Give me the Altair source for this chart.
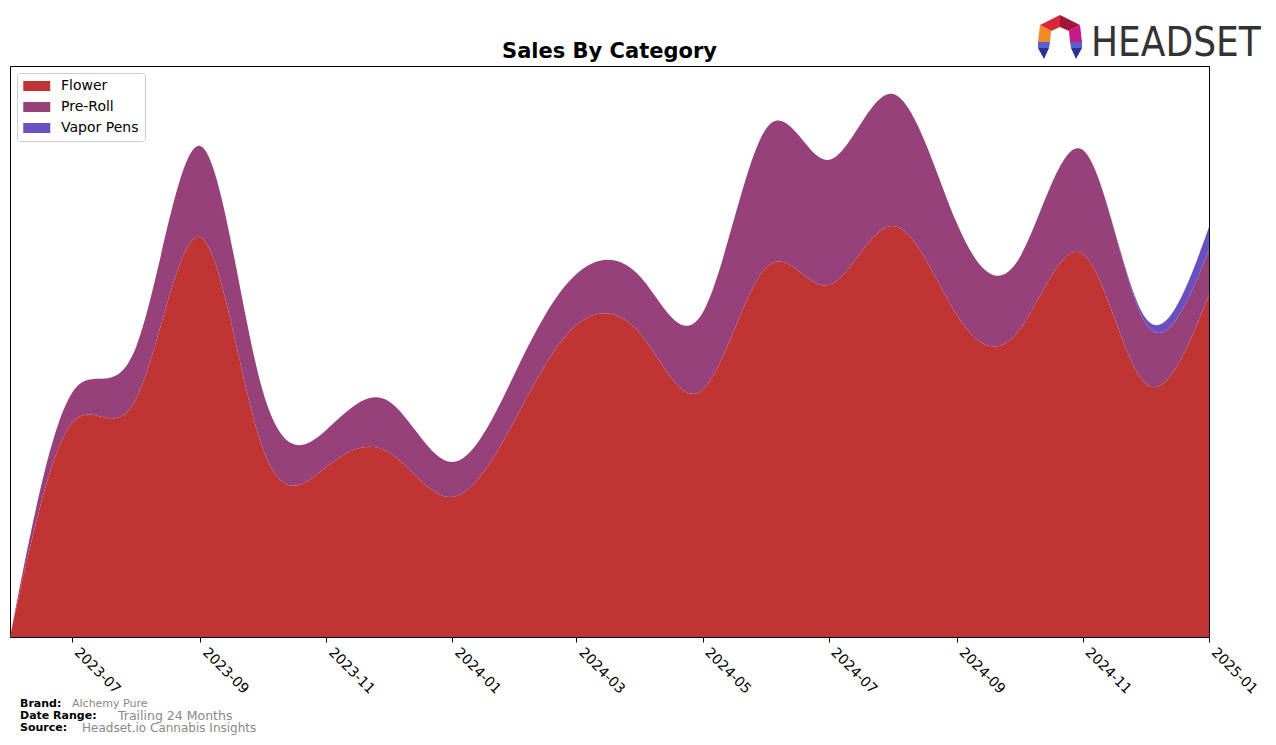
import altair as alt
import pandas as pd

# ---- data ----
months = ["2023-06-01", "2023-07-01", "2023-08-01", "2023-09-01", "2023-10-01",
          "2023-11-01", "2023-12-01", "2024-01-01", "2024-02-01", "2024-03-01",
          "2024-04-01", "2024-05-01", "2024-06-01", "2024-07-01", "2024-08-01",
          "2024-09-01", "2024-10-01", "2024-11-01", "2024-12-01", "2025-01-01"]
flower = [0, 214, 238, 400, 190, 170, 185, 140, 220, 312, 303, 247, 370, 352, 411,
          322, 306, 383, 254, 342]
preroll = [0, 30, 52, 91, 58, 37, 51, 35, 47, 51, 57, 77, 139, 125, 132, 92, 72,
           104, 61, 45]
vapor = [0, 0, 0, 0, 0, 0, 0, 0, 0, 0, 0, 0, 0, 0, 0, 0, 0, 0, 5, 23]

categories = ["Flower", "Pre-Roll", "Vapor Pens"]
colors = ["#c13434", "#96417a", "#6a4fc0"]
tick_dates = ["2023-07-01", "2023-09-01", "2023-11-01", "2024-01-01", "2024-03-01",
              "2024-05-01", "2024-07-01", "2024-09-01", "2024-11-01", "2025-01-01"]

title_text = "Sales By Category"
footer_labels = ["Brand:", "Date Range:", "Source:"]
footer_values = ["Alchemy Pure", "Trailing 24 Months", "Headset.io Cannabis Insights"]

series = {"Flower": flower, "Pre-Roll": preroll, "Vapor Pens": vapor}
rows = []
for k, cat in enumerate(categories):
    for m, v in zip(months, series[cat]):
        rows.append({"month": m, "category": cat, "sales": v, "ord": k})
df = pd.DataFrame(rows)

W, H = 1199, 571

area = alt.Chart(df).mark_area(interpolate="natural").encode(
    x=alt.X("month:T",
            scale=alt.Scale(domain=["2023-06-01", "2025-01-01"], nice=False),
            axis=alt.Axis(values=tick_dates, format="%Y-%m", labelAngle=45,
                          labelAlign="left", labelBaseline="top", labelPadding=3,
                          labelOffset=9,
                          labelFontSize=14, labelFont="DejaVu Sans", labelColor="black",
                          tickColor="black", tickSize=5, domainColor="black",
                          grid=False, title=None, labelOverlap=False, labelBound=False,
                          labelFlush=False)),
    y=alt.Y("sales:Q", stack="zero", scale=alt.Scale(domain=[0, 571], nice=False),
            axis=None),
    color=alt.Color("category:N",
                    scale=alt.Scale(domain=categories, range=colors),
                    legend=alt.Legend(title=None, orient="top-left", offset=7,
                                      symbolType="M-1,-0.74h4v1.48h-4z",
                                      symbolSize=182, symbolStrokeWidth=0,
                                      symbolOpacity=1,
                                      labelFontSize=14, labelFont="DejaVu Sans",
                                      labelColor="black", labelOffset=24,
                                      rowPadding=7, padding=6,
                                      strokeColor="#cccccc", fillColor="white",
                                      cornerRadius=3)),
    order=alt.Order("ord:Q", sort="ascending"),
)

one = alt.Data(values=[{}])

def txt(x, y, s, size, bold=False, color="black", align="left", font="DejaVu Sans",
        baseline="middle"):
    return alt.Chart(one).mark_text(
        text=s, fontSize=size, font=font, fontWeight="bold" if bold else "normal",
        color=color, align=align, baseline=baseline,
    ).encode(x=alt.value(x), y=alt.value(y))

ox, oy = 10, 66
layers = [area]
layers.append(txt(609.5 - ox, 58 - oy, title_text, 21, bold=True, align="center",
                  baseline="alphabetic"))
lab_pos = [(20, 704), (20, 716), (20, 728)]
val_pos = [(72, 704), (118, 716), (82, 728)]
val_size = [11, 12.5, 12]
for (lx, ly), s in zip(lab_pos, footer_labels):
    layers.append(txt(lx - ox, ly - oy, s, 11, bold=True))
for (vx, vy), s, fs in zip(val_pos, footer_values, val_size):
    layers.append(txt(vx - ox, vy - oy, s, fs, color="#888888"))

# Headset logo
layers.append(txt(1091 - ox, 56 - oy, "HEADSET", 40, color="#333333",
                  font="Liberation Sans Narrow, DejaVu Sans Condensed, sans-serif",
                  baseline="alphabetic"))
logo_pieces = [
    ("M0,-22L-20,-12L-9,-6L0,-10Z", "#d9263b"),
    ("M0,-22L0,-10L9,-6L20,-12Z", "#a3163c"),
    ("M-20,-12L-22,5L-10,5L-9,-6Z", "#f08a24"),
    ("M20,-12L9,-6L10,5L22,5Z", "#c21a86"),
    ("M-22,5L-10,5L-11,11L-22,11Z", "#5a5fd0"),
    ("M-22,11L-11,11L-16,22Z", "#2d3090"),
    ("M22,5L10,5L11,11L22,11Z", "#5a5fd0"),
    ("M22,11L11,11L16,22Z", "#2d3090"),
]
for path, col in logo_pieces:
    layers.append(alt.Chart(one).mark_point(
        shape=path, size=4, filled=True, color=col, opacity=1, strokeWidth=0
    ).encode(x=alt.value(1060 - ox), y=alt.value(37 - oy)))

chart = alt.layer(*layers).properties(
    width=W, height=H,
    autosize=alt.AutoSizeParams(type="none"),
    padding={"left": 10, "top": 66, "right": 67, "bottom": 108},
).configure_view(stroke="black", strokeWidth=1)

chart.save("out.html", embed_options={"renderer": "svg", "actions": False})
